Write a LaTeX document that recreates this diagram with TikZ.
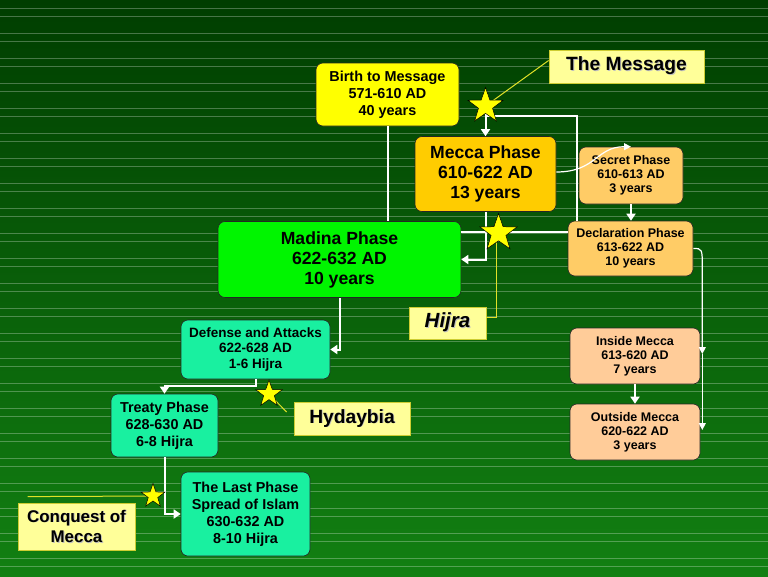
\documentclass[tikz,border=0pt]{standalone}
\usepackage{fontspec}
\setmainfont{Liberation Sans}
\usetikzlibrary{shapes.geometric,arrows.meta,calc}
\definecolor{bgtop}{RGB}{0,62,0}
\definecolor{bgbot}{RGB}{18,128,18}
\definecolor{cyel}{RGB}{255,255,0}
\definecolor{corg}{RGB}{255,204,0}
\definecolor{clor}{RGB}{255,204,102}
\definecolor{cpch}{RGB}{255,204,153}
\definecolor{cgrn}{RGB}{0,245,0}
\definecolor{caqu}{RGB}{25,240,160}
\definecolor{ctag}{RGB}{255,255,153}
\definecolor{ctagb}{RGB}{205,205,50}
\definecolor{ccall}{RGB}{225,225,40}
\newcommand{\shd}[1]{\makebox[0pt][l]{\kern0.9pt\raisebox{-0.9pt}{\color{black!25}#1}}#1}
\begin{document}
\begin{tikzpicture}[x=1pt,y=-1pt,
  box/.style={draw=black!85, line width=0.6pt, rounded corners=7pt, align=center, inner sep=0pt},
  bigf/.style={font=\fontsize{17.6}{20}\selectfont\bfseries},
  midf/.style={font=\fontsize{14.4}{17}\selectfont\bfseries},
  deff/.style={font=\fontsize{13.5}{15.5}\selectfont\bfseries},
  smlf/.style={font=\fontsize{12.5}{14}\selectfont\bfseries},
  tag/.style={draw=ctagb, fill=ctag, line width=0.8pt, align=center, inner sep=0pt},
  arr/.style={draw=white, line width=2pt, -{Triangle[width=9pt,length=7pt]}},
  conn/.style={draw=white, line width=2pt},
  thinarr/.style={draw=white, line width=1.2pt, -{Triangle[width=7pt,length=7pt]}},
  callout/.style={draw=ccall, line width=1pt},
  starmark/.style={star, star points=5, star point ratio=2.5, fill=cyel, draw=black, line width=0.5pt, inner sep=0pt},
  bgline/.style={draw=white, opacity=0.28, line width=0.8pt}
]
\useasboundingbox (0,0) rectangle (768,576);
\shade[top color=bgtop, bottom color=bgbot] (0,0) rectangle (768,576);
\foreach \j in {0,...,22} {
  \draw[bgline] (0,{25*\j+8.33}) -- (768,{25*\j+8.33});
  \draw[bgline] (0,{25*\j+16.67}) -- (768,{25*\j+16.67});
}

% nodes
\node[box, midf, fill=cyel, minimum width=143pt, minimum height=63pt] (birth) at (387.5,94.5) {Birth to Message\\571-610 AD\\40 years};
\node[tag, font=\fontsize{19.2}{20}\selectfont\bfseries, minimum width=155pt, minimum height=33pt] (message) at (626.5,66.5) {\shd{The Message}};
\node[box, bigf, fill=corg, minimum width=141pt, minimum height=75pt] (mecca) at (485.5,174) {Mecca Phase\\610-622 AD\\13 years};
\node[box, smlf, fill=clor, minimum width=104pt, minimum height=57pt] (secret) at (631,175.5) {Secret Phase\\610-613 AD\\3 years};
\node[box, smlf, fill=clor, minimum width=125pt, minimum height=55pt] (decl) at (630.5,248.5) {Declaration Phase\\613-622 AD\\10 years};
\node[box, bigf, fill=cgrn, minimum width=243pt, minimum height=76pt] (madina) at (339.5,259.5) {Madina Phase\\622-632 AD\\10 years};
\node[tag, font=\fontsize{20.5}{20}\selectfont\bfseries\itshape, minimum width=77pt, minimum height=32pt] (hijra) at (447.5,323) {\shd{Hijra}};
\node[box, smlf, fill=cpch, minimum width=130pt, minimum height=56pt] (inside) at (635,356) {Inside Mecca\\613-620 AD\\7 years};
\node[box, smlf, fill=cpch, minimum width=130pt, minimum height=56pt] (outside) at (635,432) {Outside Mecca\\620-622 AD\\3 years};
\node[box, deff, fill=caqu, minimum width=149pt, minimum height=59pt] (defense) at (255.5,349.5) {Defense and Attacks\\622-628 AD\\1-6 Hijra};
\node[box, midf, fill=caqu, minimum width=107pt, minimum height=63pt] (treaty) at (164.5,425.5) {Treaty Phase\\628-630 AD\\6-8 Hijra};
\node[box, midf, fill=caqu, minimum width=129pt, minimum height=84pt] (last) at (245.5,514) {The Last Phase\\Spread of Islam\\630-632 AD\\8-10 Hijra};
\node[tag, font=\fontsize{19.2}{20}\selectfont\bfseries, minimum width=116pt, minimum height=33pt] (hyd) at (352,418.5) {\shd{Hydaybia}};
\node[tag, font=\fontsize{16.9}{20}\selectfont\bfseries, minimum width=117pt, minimum height=47pt] (conq) at (76.5,526.5) {\shd{Conquest of}\\\shd{Mecca}};

% star positions
\coordinate (s1) at (485.5,106);
\coordinate (s2) at (498.5,233);
\coordinate (s3) at (269,394);
\coordinate (s4) at (153,496);

% connectors
\draw[conn] (birth.south) -- (birth.south |- madina.north);
\draw[arr] (s1) -- (s1 |- mecca.north);
\draw[conn] ([xshift=9pt]decl.north west) |- ([yshift=-10pt]s1);
\draw[thinarr] ([yshift=2pt]mecca.east) .. controls +(40,0) and +(-35,0) .. (secret.north);
\draw[arr] (secret.south) -- (secret.south |- decl.north);
\draw[arr] (mecca.south) |- (madina.east);
\coordinate (hy) at ([yshift=16.5pt]decl.west);
\draw[conn] (hy) -- (madina.east |- hy);
\coordinate (ie) at ([xshift=2pt,yshift=2pt]inside.east);
\coordinate (oe) at ([xshift=2pt,yshift=2pt]outside.east);
\draw[thinarr] (decl.east) .. controls (decl.east -| ie) .. ($(decl.east -| ie)+(0,20)$) -- (ie);
\draw[thinarr] (ie) -- (oe);
\draw[arr] (inside.south) -- (outside.north);
\draw[arr] (madina.south) |- (defense.east);
\draw[arr] (defense.south) -- ++(0,7) -| (treaty.north);
\draw[arr] (treaty.south) |- (last.west);

% callouts
\draw[callout] (s1) -- ([yshift=6pt]message.west);
\draw[callout] ([xshift=-2pt]s2) |- ([yshift=6pt]hijra.east);
\draw[callout] (s3) -- ($(hyd.west)+(-7,-6.5)$);
\draw[callout] (s4) -- ($(conq.north west)+(10,-6)$);

% stars
\node[starmark, minimum size=37pt] (star1) at (s1) {};
\node[starmark, minimum size=39pt] (star2) at (s2) {};
\node[starmark, minimum size=28pt] (star3) at (s3) {};
\node[starmark, minimum size=25pt] (star4) at (s4) {};
\end{tikzpicture}
\end{document}
